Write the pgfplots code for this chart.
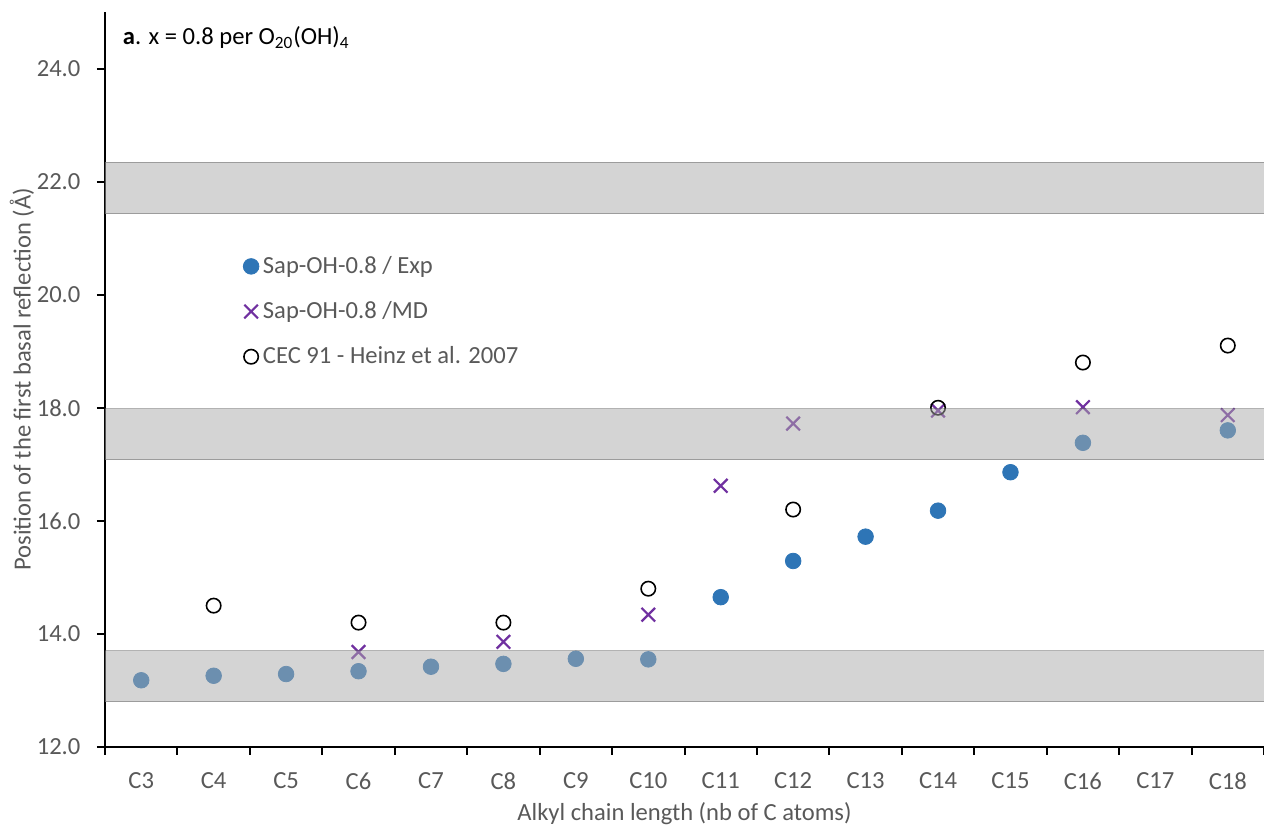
\documentclass[border=0pt]{standalone}
\usepackage{pgfplots}
\pgfplotsset{compat=1.18}
\usepackage{fontspec}
\setmainfont{Carlito}
\definecolor{expblue}{HTML}{2E75B6}
\definecolor{mdpurple}{HTML}{7030A0}
\definecolor{txtgray}{HTML}{595959}
\definecolor{bandgray}{HTML}{AAAAAA}
\newcommand{\fs}{\fontsize{12.3pt}{14pt}\selectfont}
\begin{document}
\fs
\begin{tikzpicture}
\begin{axis}[
  scale only axis, width=579.5pt, height=367.5pt,
  xmin=-0.5, xmax=15.5, ymin=12, ymax=25,
  axis x line*=bottom, axis y line*=left,
  axis line style={line width=1.1pt, black},
  xtick={0,...,15},
  xticklabels={C3,C4,C5,C6,C7,C8,C9,C10,C11,C12,C13,C14,C15,C16,C17,C18},
  major x tick style={draw=none},
  minor xtick={-0.5,0.5,...,15.5},
  ytick={12,14,...,24},
  tick align=outside,
  tick style={black, line width=1pt},
  major tick length=4pt, minor tick length=4pt,
  yticklabel={\pgfmathprintnumber[fixed,fixed zerofill,precision=1]{\tick}},
  /pgf/number format/assume math mode=true,
  ticklabel style={text=txtgray, font=\fs},
  xticklabel style={yshift=-4.5pt},
  yticklabel style={xshift=-4pt},
  xlabel={Alkyl chain length (nb of C atoms)},
  ylabel={Position of the first basal reflection (Å)},
  label style={text=txtgray, font=\fs},
  xlabel style={at={(axis description cs:0.5,-0.091)}, anchor=center},
  ylabel style={at={(axis description cs:-0.0716,0.5)}, anchor=center},
  legend style={draw=none, fill=none, at={(rel axis cs:0.119,0.674)}, anchor=north west,
    font=\fs, text=txtgray, row sep=8.2pt, inner sep=0pt,
    /tikz/every odd column/.append style={column sep=0pt}},
  legend cell align=left,
  clip marker paths=true,
]
\addplot[only marks, mark=*, mark size=3.9pt, mark options={draw=expblue, fill=expblue}]
  coordinates {(0,13.18) (1,13.26) (2,13.29) (3,13.34) (4,13.42) (5,13.47) (6,13.56) (7,13.55)
  (8,14.65) (9,15.29) (10,15.72) (11,16.18) (12,16.86) (13,17.38) (15,17.60)};
\addlegendentry{Sap-OH-0.8 / Exp}
\addplot[only marks, mark=x, mark size=4.8pt, mark options={draw=mdpurple, line width=1.1pt}]
  coordinates {(3,13.68) (5,13.86) (7,14.34) (8,16.62) (9,17.72) (11,17.95) (13,18.01) (15,17.87)};
\addlegendentry{Sap-OH-0.8 /MD}
\addplot[only marks, mark=o, mark size=3.6pt, mark options={draw=black, line width=0.8pt, fill=none}]
  coordinates {(1,14.50) (3,14.20) (5,14.20) (7,14.80) (9,16.20) (11,18.00) (13,18.80) (15,19.10)};
\addlegendentry{CEC 91 - Heinz et al. 2007}
\addplot[forget plot, fill=bandgray, fill opacity=0.5, draw=black!60, draw opacity=0.5, line width=0.5pt]
  coordinates {(-0.5,12.80) (15.5,12.80) (15.5,13.70) (-0.5,13.70)} -- cycle;
\addplot[forget plot, fill=bandgray, fill opacity=0.5, draw=black!60, draw opacity=0.5, line width=0.5pt]
  coordinates {(-0.5,17.08) (15.5,17.08) (15.5,17.98) (-0.5,17.98)} -- cycle;
\addplot[forget plot, fill=bandgray, fill opacity=0.5, draw=black!60, draw opacity=0.5, line width=0.5pt]
  coordinates {(-0.5,21.43) (15.5,21.43) (15.5,22.34) (-0.5,22.34)} -- cycle;
\node[anchor=west, text=black, font=\fs] at (rel axis cs:0.008,0.965)
  {\textbf{a}. x = 0.8 per O\textsubscript{20}(OH)\textsubscript{4}};
\coordinate (sw) at (rel axis cs:0,0);
\coordinate (ne) at (rel axis cs:1,1);
\end{axis}
\pgfresetboundingbox
\path[use as bounding box] ([shift={(-52.5pt,-40.5pt)}]sw) rectangle ([shift={(0pt,6pt)}]ne);
\end{tikzpicture}
\end{document}
